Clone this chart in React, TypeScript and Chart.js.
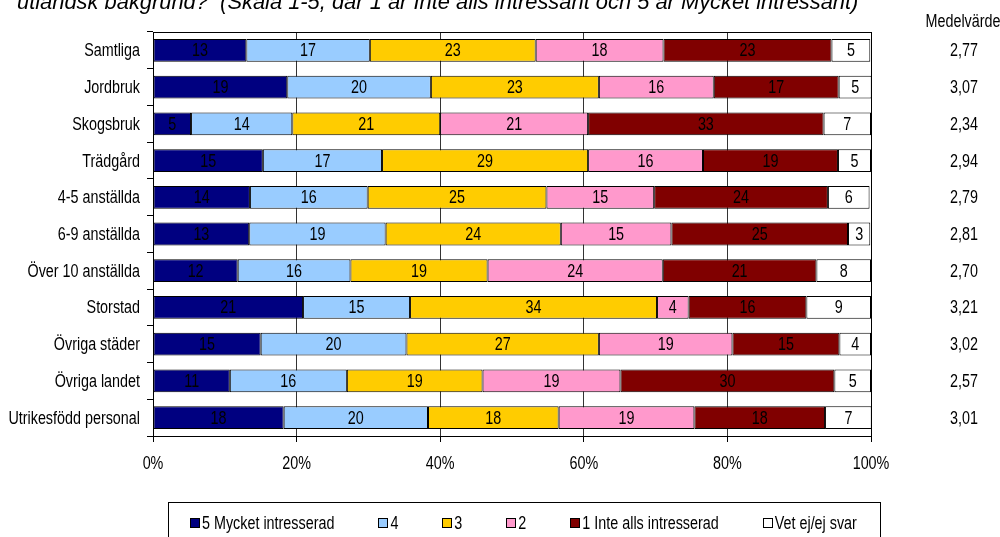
import React, { useEffect, useRef } from "react";
import { Chart, registerables } from "chart.js";

Chart.register(...registerables);

const categories = [
  "Samtliga",
  "Jordbruk",
  "Skogsbruk",
  "Trädgård",
  "4-5 anställda",
  "6-9 anställda",
  "Över 10 anställda",
  "Storstad",
  "Övriga städer",
  "Övriga landet",
  "Utrikesfödd personal",
];

const seriesLabels = [
  "5 Mycket intresserad",
  "4",
  "3",
  "2",
  "1 Inte alls intresserad",
  "Vet ej/ej svar",
];

const valuesFive = [13.0, 18.7, 5.3, 15.3, 13.5, 13.4, 11.8, 20.9, 15.0, 10.7, 18.2];
const valuesFour = [17.2, 20.0, 14.1, 16.6, 16.4, 19.0, 15.7, 14.9, 20.3, 16.3, 20.1];
const valuesThree = [23.1, 23.4, 20.6, 28.7, 24.9, 24.4, 19.1, 34.4, 26.8, 18.9, 18.2];
const valuesTwo = [17.8, 16.0, 20.6, 16.0, 15.0, 15.4, 24.4, 4.4, 18.6, 19.2, 18.9];
const valuesOne = [23.4, 17.4, 32.8, 18.8, 24.2, 24.6, 21.4, 16.4, 14.9, 29.8, 18.2];
const valuesDontKnow = [5.4, 4.6, 6.6, 4.6, 5.8, 3.1, 7.6, 9.0, 4.4, 5.1, 6.5];

const meanValues = ["2,77", "3,07", "2,34", "2,94", "2,79", "2,81", "2,70", "3,21", "3,02", "2,57", "3,01"];
const meanHeader = "Medelvärde";
const xTickValues = [0, 20, 40, 60, 80, 100];
const titleText =
  "utländsk bakgrund?  (Skala 1-5, där 1 är Inte alls intressant och 5 är Mycket intressant)";

const seriesColors = ["#000080", "#99CCFF", "#FFCC00", "#FF99CC", "#800000", "#FFFFFF"];

const BASEFONT = '"Liberation Sans", Arial, sans-serif';
const FS = 17.5;
const SX = 0.82;

function narrowText(ctx: any, text: string, x: number, y: number, align: "left" | "center" | "right") {
  ctx.save();
  ctx.font = `${FS}px ${BASEFONT}`;
  ctx.textAlign = align;
  ctx.textBaseline = "alphabetic";
  ctx.translate(x, y);
  ctx.scale(SX, 1);
  ctx.fillText(text, 0, 0);
  ctx.restore();
}

function narrowWidth(ctx: any, text: string) {
  ctx.save();
  ctx.font = `${FS}px ${BASEFONT}`;
  const w = ctx.measureText(text).width * SX;
  ctx.restore();
  return w;
}

const BASE_OFF = 6;

const overlayPlugin = {
  id: "overlay",
  afterDatasetsDraw(chart: any) {
    const ctx = chart.ctx;
    ctx.save();
    ctx.fillStyle = "#000";
    chart.data.datasets.forEach((ds: any, di: number) => {
      const meta = chart.getDatasetMeta(di);
      meta.data.forEach((el: any, i: number) => {
        const v = ds.data[i];
        const cx = (el.x + el.base) / 2;
        narrowText(ctx, String(Math.round(v)), cx, el.y + BASE_OFF, "center");
      });
    });
    ctx.restore();
  },
  afterDraw(chart: any) {
    const ctx = chart.ctx;
    const area = chart.chartArea;
    const yScale = chart.scales.y;
    const xScale = chart.scales.x;
    ctx.save();
    ctx.strokeStyle = "#000";
    ctx.lineWidth = 1;
    ctx.strokeRect(
      Math.round(area.left) + 0.5,
      Math.round(area.top) + 0.5,
      Math.round(area.right - area.left),
      Math.round(area.bottom - area.top)
    );

    // title (clipped at top of page)
    let tsize = 16;
    ctx.font = `italic ${tsize}px ${BASEFONT}`;
    const w = ctx.measureText(titleText).width;
    tsize = (tsize * 842) / w;
    ctx.font = `italic ${tsize}px ${BASEFONT}`;
    ctx.fillStyle = "#000";
    ctx.textAlign = "left";
    ctx.textBaseline = "alphabetic";
    ctx.fillText(titleText, 17, 9);

    ctx.fillStyle = "#000";
    categories.forEach((c, i) => {
      const y = yScale.getPixelForValue(i);
      narrowText(ctx, c, 140, y + BASE_OFF, "right");
      narrowText(ctx, meanValues[i], 964, y + BASE_OFF, "center");
    });
    narrowText(ctx, meanHeader, 963, 27, "center");

    xTickValues.forEach((v) => {
      narrowText(ctx, `${v}%`, xScale.getPixelForValue(v), 469, "center");
    });

    // legend
    const boxL = 168, boxR = 880, boxT = 502;
    ctx.strokeStyle = "#000";
    ctx.strokeRect(boxL + 0.5, boxT + 0.5, boxR - boxL, 60);
    const sq = 9, gapSq = 3, gapItem = 44;
    const widths = chart.data.datasets.map((d: any) => narrowWidth(ctx, d.label));
    let x = boxL + 22;
    const ly = 523;
    chart.data.datasets.forEach((d: any, i: number) => {
      const sx = Math.round(x) + 0.5;
      ctx.fillStyle = d.backgroundColor;
      ctx.fillRect(sx, ly - 4.5, sq, sq);
      ctx.strokeStyle = "#000";
      ctx.strokeRect(sx, ly - 4.5, sq, sq);
      ctx.fillStyle = "#000";
      narrowText(ctx, d.label, x + sq + gapSq, ly + BASE_OFF, "left");
      x += sq + gapSq + widths[i] + gapItem;
    });
    ctx.restore();
  },
};

export default function App() {
  const ref = useRef<HTMLCanvasElement | null>(null);

  useEffect(() => {
    if (!ref.current) return;
    const allValues = [valuesFive, valuesFour, valuesThree, valuesTwo, valuesOne, valuesDontKnow];
    const chart = new Chart(ref.current, {
      type: "bar",
      data: {
        labels: categories,
        datasets: allValues.map((vals, i) => ({
          label: seriesLabels[i],
          data: vals,
          backgroundColor: seriesColors[i],
          borderColor: "#000",
          borderWidth: 1,
          borderSkipped: false,
          barPercentage: 0.62,
          categoryPercentage: 1,
        })),
      },
      options: {
        indexAxis: "y",
        responsive: false,
        animation: false,
        devicePixelRatio: 1,
        layout: { padding: { top: 32, right: 129, left: 0, bottom: 0 } },
        plugins: {
          legend: { display: false },
          tooltip: { enabled: false },
          title: { display: false },
        },
        scales: {
          x: {
            type: "linear",
            stacked: true,
            min: 0,
            max: 100,
            afterBuildTicks: (scale: any) => {
              scale.ticks = xTickValues.map((v) => ({ value: v }));
            },
            afterFit: (scale: any) => {
              scale.height = 101;
            },
            ticks: { display: false },
            grid: {
              color: "#333",
              tickColor: "#000",
              tickLength: 6,
              drawTicks: true,
            },
            border: { display: true, color: "#000" },
          },
          y: {
            type: "category",
            stacked: true,
            afterFit: (scale: any) => {
              scale.width = 153;
            },
            ticks: { display: false, autoSkip: false },
            grid: {
              offset: true,
              drawOnChartArea: false,
              tickColor: "#000",
              tickLength: 6,
            },
            border: { display: true, color: "#000" },
          },
        },
      },
      plugins: [overlayPlugin],
    } as any);
    return () => chart.destroy();
  }, []);

  return (
    <div style={{ position: "absolute", left: 0, top: 0, width: 1000, height: 537, background: "#fff" }}>
      <canvas ref={ref} width={1000} height={537} style={{ display: "block" }} />
    </div>
  );
}
